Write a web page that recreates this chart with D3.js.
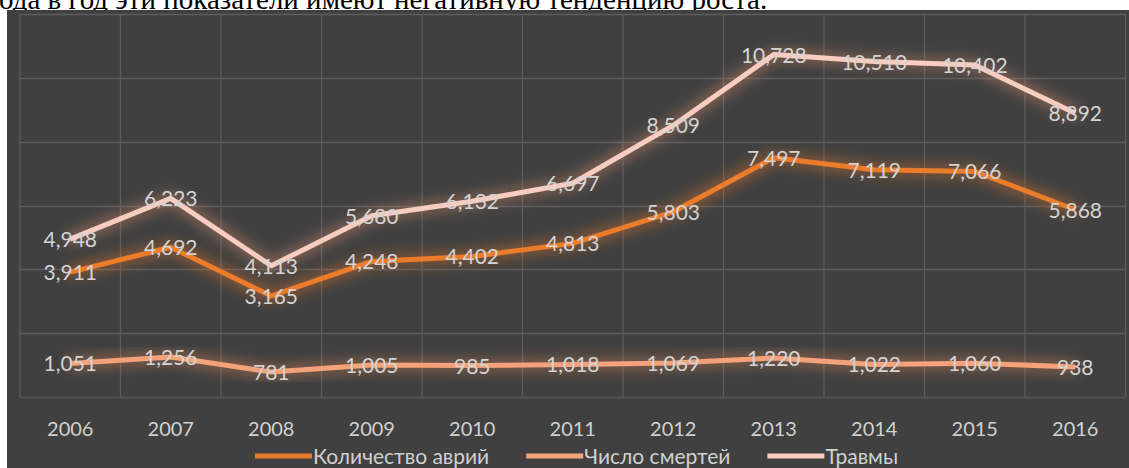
<!DOCTYPE html>
<html>
<head>
<meta charset="utf-8">
<script src="https://cdn.jsdelivr.net/npm/d3@7"></script>
<style>
  html, body { margin: 0; padding: 0; background: #ffffff; }
  svg { display: block; }
</style>
</head>
<body>
<svg id="chart" width="1129" height="468"></svg>
<script>
// Road traffic statistics by year
const years = ["2006","2007","2008","2009","2010","2011","2012","2013","2014","2015","2016"];
const accidents = [3911, 4692, 3165, 4248, 4402, 4813, 5803, 7497, 7119, 7066, 5868];
const deaths    = [1051, 1256, 781, 1005, 985, 1018, 1069, 1220, 1022, 1060, 938];
const injuries  = [4948, 6223, 4113, 5680, 6132, 6697, 8509, 10728, 10510, 10402, 8892];
const seriesNames = ["Количество аврий", "Число смертей", "Травмы"];
const yTicks = [0, 2000, 4000, 6000, 8000, 10000, 12000];
const headerText = "ода в год эти показатели имеют негативную тенденцию роста.";

const series = [
  { name: seriesNames[0], values: accidents, color: "#ea7b2c", glow: "#e8782a" },
  { name: seriesNames[1], values: deaths,    color: "#f3a27a", glow: "#e88a55" },
  { name: seriesNames[2], values: injuries,  color: "#f8cdc0", glow: "#d98f6c" }
];

const W = 1129, H = 468;
const svg = d3.select("#chart");
const fontUI = "Lato, 'Open Sans', sans-serif";

// Paragraph line above the chart
svg.append("text")
  .attr("x", -1).attr("y", 9)
  .attr("font-family", "'Liberation Serif', 'Times New Roman', serif")
  .attr("font-size", 29)
  .attr("fill", "#000")
  .text(headerText);

// Chart area background
svg.append("rect")
  .attr("x", 7).attr("y", 10)
  .attr("width", W - 7).attr("height", H - 10)
  .attr("fill", "#404040");

// Glow filters
const defs = svg.append("defs");
series.forEach((s, i) => {
  const f = defs.append("filter").attr("id", "glow" + i)
    .attr("x", "-10%").attr("y", "-60%").attr("width", "120%").attr("height", "220%");
  f.append("feMorphology").attr("in", "SourceAlpha").attr("operator", "dilate").attr("radius", 3).attr("result", "d");
  f.append("feGaussianBlur").attr("in", "d").attr("stdDeviation", 6.5).attr("result", "b");
  f.append("feFlood").attr("flood-color", s.glow).attr("flood-opacity", 0.45).attr("result", "c");
  f.append("feComposite").attr("in", "c").attr("in2", "b").attr("operator", "in").attr("result", "g");
  const m = f.append("feMerge");
  m.append("feMergeNode").attr("in", "g");
  m.append("feMergeNode").attr("in", "SourceGraphic");
});

const plot = { left: 20, right: 1125.5, top: 14, bottom: 397 };

const x = d3.scaleBand().domain(years).range([plot.left, plot.right]).padding(0);
const y = d3.scaleLinear().domain([0, 12000]).range([plot.bottom, plot.top]);

const gridColor = "#5c5c5c";
const grid = svg.append("g");

// Horizontal gridlines
grid.selectAll("line.h").data(yTicks).join("line")
  .attr("class", "h")
  .attr("x1", plot.left).attr("x2", plot.right)
  .attr("y1", d => Math.round(y(d)) + 0.5).attr("y2", d => Math.round(y(d)) + 0.5)
  .attr("stroke", d => d === 0 ? "#555555" : gridColor).attr("stroke-width", 1.3);

// Vertical gridlines at category boundaries
const bounds = years.map(d => x(d)).concat([x(years[years.length - 1]) + x.bandwidth()]);
grid.selectAll("line.v").data(bounds).join("line")
  .attr("class", "v")
  .attr("x1", d => d).attr("x2", d => d)
  .attr("y1", plot.top).attr("y2", plot.bottom)
  .attr("stroke", gridColor).attr("stroke-width", 1.3);

// Category axis labels
const xAxis = d3.axisBottom(x).tickSize(0).tickPadding(0);
const gx = svg.append("g").attr("transform", `translate(0,${plot.bottom})`).call(xAxis);
gx.select(".domain").remove();
gx.selectAll("text")
  .attr("y", 39).attr("dy", 0)
  .attr("font-family", fontUI).attr("font-size", 20)
  .attr("fill", "#d0d0d0");

const cx = d => x(d) + x.bandwidth() / 2;
const line = d3.line().x((v, i) => cx(years[i])).y(v => y(v));

// Series lines (deaths, accidents, injuries stacking order)
const drawOrder = [1, 0, 2];
drawOrder.forEach(i => {
  const s = series[i];
  svg.append("path")
    .datum(s.values)
    .attr("d", line)
    .attr("fill", "none")
    .attr("stroke", s.color)
    .attr("stroke-width", 5)
    .attr("stroke-linejoin", "round")
    .attr("filter", `url(#glow${i})`);
});

// Data labels centred on each point
const fmt = d3.format(",");
series.forEach(s => {
  svg.append("g").selectAll("text").data(s.values).join("text")
    .attr("x", (v, i) => cx(years[i]))
    .attr("y", v => y(v))
    .attr("dy", "0.38em")
    .attr("text-anchor", "middle")
    .attr("font-family", fontUI).attr("font-size", 21)
    .attr("fill", "#d4d4d4")
    .text(v => fmt(v));
});

// Legend
const legend = svg.append("g");
const symW = 57, itemGap = 37, legY = 456;
const items = series.map(s => {
  const g = legend.append("g");
  g.append("line").attr("x1", 0).attr("x2", symW).attr("y1", legY).attr("y2", legY)
    .attr("stroke", s.color).attr("stroke-width", 5);
  const t = g.append("text").attr("x", symW + 1).attr("y", legY).attr("dy", "0.36em")
    .attr("font-family", fontUI).attr("font-size", 21).attr("fill", "#d0d0d0")
    .text(s.name);
  return { g, w: symW + 1 + t.node().getComputedTextLength() };
});
const total = d3.sum(items, d => d.w) + itemGap * (items.length - 1);
let lx = 576.5 - total / 2;
items.forEach(it => {
  it.g.attr("transform", `translate(${lx},0)`);
  lx += it.w + itemGap;
});
</script>
</body>
</html>
